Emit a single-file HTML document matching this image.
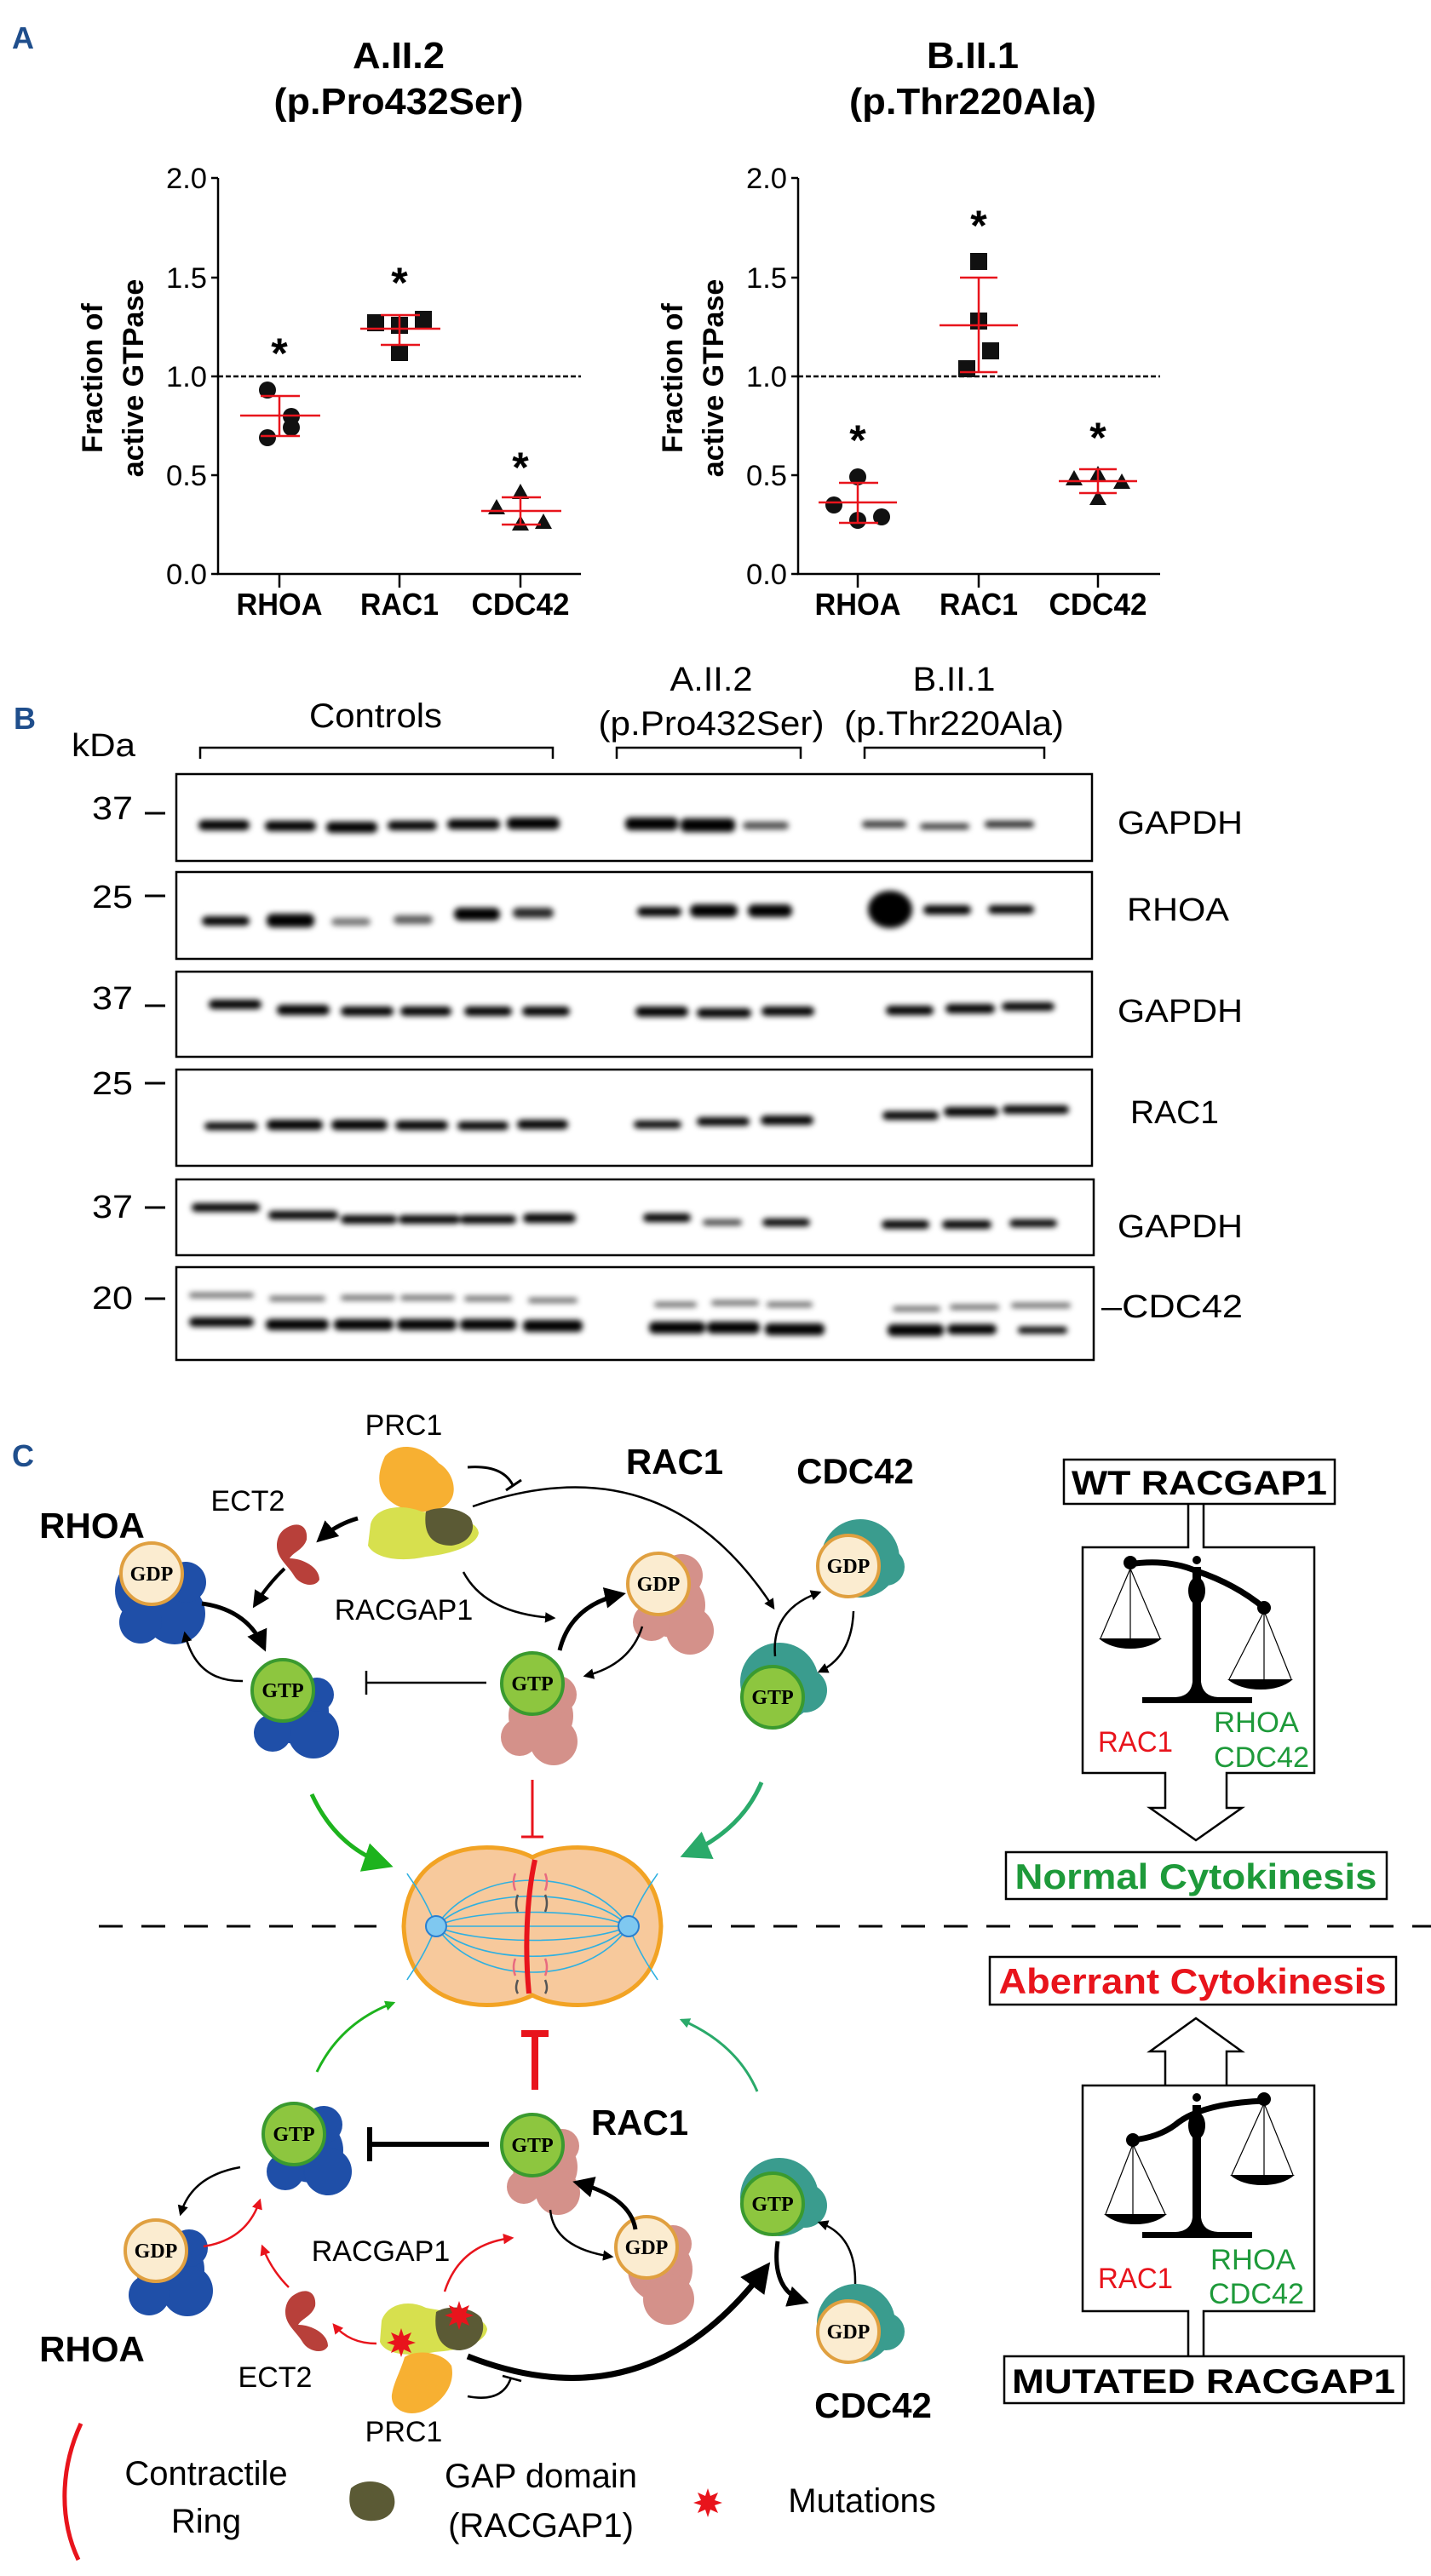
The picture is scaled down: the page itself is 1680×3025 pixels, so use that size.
<!DOCTYPE html>
<html><head><meta charset="utf-8"><style>
html,body{margin:0;padding:0;background:#fff;}
svg{display:block;}
text{font-family:"Liberation Sans",Arial,sans-serif;}
.s{font-family:"Liberation Serif",serif;font-weight:bold;}
</style></head><body>
<svg width="1680" height="3025" viewBox="0 0 1680 3025" xmlns="http://www.w3.org/2000/svg">
<defs>
<filter id="bl" x="-20%" y="-80%" width="140%" height="260%"><feGaussianBlur stdDeviation="3.5"/></filter>
<marker id="ak" viewBox="0 0 10 10" refX="8" refY="5" markerWidth="5" markerHeight="5" orient="auto"><path d="M0,0L10,5L0,10z" fill="#000"/></marker>
<marker id="ar" viewBox="0 0 10 10" refX="8" refY="5" markerWidth="5" markerHeight="5" orient="auto"><path d="M0,0L10,5L0,10z" fill="#e8141c"/></marker>
<marker id="ag" viewBox="0 0 10 10" refX="8" refY="5" markerWidth="4" markerHeight="4" orient="auto"><path d="M0,0L10,5L0,10z" fill="#1db31d"/></marker>
<marker id="at" viewBox="0 0 10 10" refX="8" refY="5" markerWidth="4" markerHeight="4" orient="auto"><path d="M0,0L10,5L0,10z" fill="#2aaa6a"/></marker>
<marker id="ag2" viewBox="0 0 10 10" refX="8" refY="5" markerWidth="7" markerHeight="7" orient="auto"><path d="M0,0L10,5L0,10z" fill="#1db31d"/></marker>
<marker id="at2" viewBox="0 0 10 10" refX="8" refY="5" markerWidth="7" markerHeight="7" orient="auto"><path d="M0,0L10,5L0,10z" fill="#2aaa6a"/></marker>
</defs>

<!-- ===== Panel A ===== -->
<text x="14" y="57" font-size="36" font-weight="bold" fill="#1f4e8c">A</text>
<text x="468" y="80" font-size="44" font-weight="bold" text-anchor="middle" textLength="108" lengthAdjust="spacingAndGlyphs">A.II.2</text>
<text x="468" y="134" font-size="44" font-weight="bold" text-anchor="middle" textLength="293" lengthAdjust="spacingAndGlyphs">(p.Pro432Ser)</text>
<text x="1142" y="80" font-size="44" font-weight="bold" text-anchor="middle" textLength="108" lengthAdjust="spacingAndGlyphs">B.II.1</text>
<text x="1142" y="134" font-size="44" font-weight="bold" text-anchor="middle" textLength="290" lengthAdjust="spacingAndGlyphs">(p.Thr220Ala)</text>

<g stroke="#000" stroke-width="2.5" fill="none">
<path d="M256,209V674H682"/>
<path d="M248,209H256M248,326H256M248,442H256M248,558H256M248,674H256"/>
<path d="M328,674V690M469,674V690M611,674V690"/>
<path d="M937,209V674H1362"/>
<path d="M929,209H937M929,326H937M929,442H937M929,558H937M929,674H937"/>
<path d="M1007,674V690M1149,674V690M1289,674V690"/>
</g>
<path d="M256,442H682M937,442H1362" stroke="#000" stroke-width="2.5" stroke-dasharray="6,3"/>
<g font-size="34" text-anchor="end">
<text x="243" y="221" textLength="48" lengthAdjust="spacingAndGlyphs">2.0</text>
<text x="243" y="338" textLength="48" lengthAdjust="spacingAndGlyphs">1.5</text>
<text x="243" y="454" textLength="48" lengthAdjust="spacingAndGlyphs">1.0</text>
<text x="243" y="570" textLength="48" lengthAdjust="spacingAndGlyphs">0.5</text>
<text x="243" y="686" textLength="48" lengthAdjust="spacingAndGlyphs">0.0</text>
<text x="924" y="221" textLength="48" lengthAdjust="spacingAndGlyphs">2.0</text>
<text x="924" y="338" textLength="48" lengthAdjust="spacingAndGlyphs">1.5</text>
<text x="924" y="454" textLength="48" lengthAdjust="spacingAndGlyphs">1.0</text>
<text x="924" y="570" textLength="48" lengthAdjust="spacingAndGlyphs">0.5</text>
<text x="924" y="686" textLength="48" lengthAdjust="spacingAndGlyphs">0.0</text>
</g>
<g font-size="36" font-weight="bold" text-anchor="middle">
<text x="328" y="722" textLength="101" lengthAdjust="spacingAndGlyphs">RHOA</text>
<text x="469" y="722" textLength="92" lengthAdjust="spacingAndGlyphs">RAC1</text>
<text x="611" y="722" textLength="115" lengthAdjust="spacingAndGlyphs">CDC42</text>
<text x="1007" y="722" textLength="101" lengthAdjust="spacingAndGlyphs">RHOA</text>
<text x="1149" y="722" textLength="92" lengthAdjust="spacingAndGlyphs">RAC1</text>
<text x="1289" y="722" textLength="115" lengthAdjust="spacingAndGlyphs">CDC42</text>
</g>
<g font-size="34" font-weight="bold" text-anchor="middle">
<text transform="translate(120,444) rotate(-90)">Fraction of</text>
<text transform="translate(168,444) rotate(-90)">active GTPase</text>
<text transform="translate(801,444) rotate(-90)">Fraction of</text>
<text transform="translate(849,444) rotate(-90)">active GTPase</text>
</g>
<g font-size="50" font-weight="bold" text-anchor="middle">
<text x="328" y="432">*</text><text x="469" y="349">*</text><text x="611" y="566">*</text>
<text x="1007" y="534">*</text><text x="1149" y="282">*</text><text x="1289" y="531">*</text>
</g>
<!-- points -->
<g fill="#111">
<circle cx="314" cy="458" r="10"/><circle cx="342" cy="489" r="10"/><circle cx="342" cy="502" r="10"/><circle cx="314" cy="514" r="10"/>
<rect x="431" y="369" width="20" height="20"/><rect x="459" y="372" width="20" height="20"/><rect x="487" y="365" width="20" height="20"/><rect x="459" y="404" width="20" height="20"/>
<path d="M583,586l10,18h-20zM611,568l10,18h-20zM638,603l10,18h-20zM611,605l10,18h-20z"/>
<circle cx="979" cy="593" r="10"/><circle cx="1007" cy="560" r="10"/><circle cx="1035" cy="607" r="10"/><circle cx="1007" cy="611" r="10"/>
<rect x="1139" y="297" width="20" height="20"/><rect x="1139" y="367" width="20" height="20"/><rect x="1153" y="402" width="20" height="20"/><rect x="1125" y="423" width="20" height="20"/>
<path d="M1261,552l10,18h-20zM1289,547l10,18h-20zM1317,556l10,18h-20zM1289,575l10,18h-20z"/>
</g>
<g stroke="#e8141c" stroke-width="2.5" fill="none">
<path d="M282,488H376M306,465H352M306,512H352M328,465V512"/>
<path d="M423,386H517M447,370H493M447,405H493M469,370V405"/>
<path d="M565,600H659M589,584H635M589,616H635M611,584V616"/>
<path d="M961,590H1053M985,567H1031M985,614H1031M1007,567V614"/>
<path d="M1103,382H1195M1127,326H1171M1127,437H1171M1149,326V437"/>
<path d="M1243,565H1335M1267,551H1311M1267,579H1311M1289,551V579"/>
</g>

<!-- ===== Panel B ===== -->
<text x="16" y="856" font-size="36" font-weight="bold" fill="#1f4e8c">B</text>
<text x="84" y="888" font-size="38" textLength="75" lengthAdjust="spacingAndGlyphs">kDa</text>
<text x="441" y="854" font-size="40" text-anchor="middle" textLength="156" lengthAdjust="spacingAndGlyphs">Controls</text>
<text x="835" y="811" font-size="40" text-anchor="middle" textLength="97" lengthAdjust="spacingAndGlyphs">A.II.2</text>
<text x="835" y="863" font-size="40" text-anchor="middle" textLength="265" lengthAdjust="spacingAndGlyphs">(p.Pro432Ser)</text>
<text x="1120" y="811" font-size="40" text-anchor="middle" textLength="97" lengthAdjust="spacingAndGlyphs">B.II.1</text>
<text x="1120" y="863" font-size="40" text-anchor="middle" textLength="258" lengthAdjust="spacingAndGlyphs">(p.Thr220Ala)</text>
<g stroke="#000" stroke-width="2.5" fill="none">
<path d="M235,891V878H649V891M724,891V878H940V891M1015,891V878H1226V891"/>
<rect x="207" y="909" width="1075" height="102"/>
<rect x="207" y="1024" width="1075" height="102"/>
<rect x="207" y="1141" width="1075" height="100"/>
<rect x="207" y="1256" width="1075" height="113"/>
<rect x="207" y="1385" width="1077" height="89"/>
<rect x="207" y="1488" width="1077" height="109"/>
</g>
<g font-size="38">
<text x="108" y="962" textLength="48" lengthAdjust="spacingAndGlyphs">37</text>
<text x="108" y="1066" textLength="48" lengthAdjust="spacingAndGlyphs">25</text>
<text x="108" y="1185" textLength="48" lengthAdjust="spacingAndGlyphs">37</text>
<text x="108" y="1285" textLength="48" lengthAdjust="spacingAndGlyphs">25</text>
<text x="108" y="1430" textLength="48" lengthAdjust="spacingAndGlyphs">37</text>
<text x="108" y="1537" textLength="48" lengthAdjust="spacingAndGlyphs">20</text>
</g>
<path d="M170,955H194M170,1052H194M170,1181H194M170,1272H194M170,1418H194M170,1525H194" stroke="#000" stroke-width="3"/>
<g font-size="38">
<text x="1312" y="979" textLength="147" lengthAdjust="spacingAndGlyphs">GAPDH</text>
<text x="1323" y="1081" textLength="120" lengthAdjust="spacingAndGlyphs">RHOA</text>
<text x="1312" y="1200" textLength="147" lengthAdjust="spacingAndGlyphs">GAPDH</text>
<text x="1327" y="1319" textLength="104" lengthAdjust="spacingAndGlyphs">RAC1</text>
<text x="1312" y="1453" textLength="147" lengthAdjust="spacingAndGlyphs">GAPDH</text>
<text x="1293" y="1547" textLength="166" lengthAdjust="spacingAndGlyphs">–CDC42</text>
</g>
<g fill="#000" filter="url(#bl)">
<!-- box1 -->
<rect x="233" y="963" width="60" height="12" rx="6"/><rect x="311" y="964" width="60" height="12" rx="6"/><rect x="383" y="965" width="60" height="13" rx="6"/><rect x="455" y="964" width="58" height="11" rx="6"/><rect x="525" y="962" width="62" height="12" rx="6"/><rect x="595" y="960" width="62" height="14" rx="6"/>
<rect x="734" y="960" width="62" height="15" rx="6"/><rect x="799" y="961" width="64" height="16" rx="6"/><rect x="872" y="965" width="54" height="9" rx="5" opacity="0.7"/>
<rect x="1012" y="964" width="52" height="8" rx="4" opacity="0.8"/><rect x="1080" y="967" width="58" height="7" rx="4" opacity="0.8"/><rect x="1156" y="964" width="58" height="8" rx="4" opacity="0.85"/>
<!-- box2 -->
<rect x="237" y="1076" width="56" height="11" rx="6"/><rect x="313" y="1073" width="56" height="16" rx="7"/><rect x="389" y="1078" width="46" height="9" rx="5" opacity="0.55"/><rect x="462" y="1075" width="46" height="10" rx="5" opacity="0.65"/><rect x="533" y="1066" width="54" height="15" rx="7"/><rect x="602" y="1066" width="48" height="12" rx="6" opacity="0.85"/>
<rect x="748" y="1065" width="52" height="11" rx="6"/><rect x="810" y="1062" width="56" height="15" rx="7"/><rect x="878" y="1062" width="52" height="15" rx="7"/>
<ellipse cx="1045" cy="1068" rx="26" ry="22"/><rect x="1084" y="1063" width="56" height="11" rx="6"/><rect x="1160" y="1063" width="54" height="10" rx="5"/>
<!-- box3 -->
<rect x="245" y="1174" width="62" height="11" rx="6"/><rect x="325" y="1180" width="62" height="12" rx="6"/><rect x="400" y="1182" width="62" height="11" rx="6"/><rect x="470" y="1182" width="60" height="11" rx="6"/><rect x="545" y="1182" width="56" height="11" rx="6"/><rect x="613" y="1182" width="56" height="11" rx="6"/>
<rect x="746" y="1182" width="62" height="12" rx="6"/><rect x="818" y="1184" width="64" height="11" rx="6"/><rect x="894" y="1182" width="62" height="11" rx="6"/>
<rect x="1040" y="1181" width="56" height="11" rx="6"/><rect x="1110" y="1179" width="58" height="11" rx="6"/><rect x="1176" y="1177" width="62" height="10" rx="6"/>
<!-- box4 -->
<rect x="240" y="1318" width="62" height="9" rx="5"/><rect x="313" y="1315" width="66" height="12" rx="6"/><rect x="389" y="1315" width="66" height="12" rx="6"/><rect x="464" y="1316" width="62" height="11" rx="6"/><rect x="537" y="1317" width="60" height="10" rx="5"/><rect x="607" y="1315" width="60" height="11" rx="6"/>
<rect x="744" y="1316" width="56" height="9" rx="5"/><rect x="818" y="1312" width="62" height="10" rx="5"/><rect x="893" y="1310" width="62" height="11" rx="6"/>
<rect x="1036" y="1305" width="66" height="10" rx="5"/><rect x="1108" y="1300" width="64" height="11" rx="6"/><rect x="1177" y="1298" width="78" height="10" rx="5"/>
<!-- box5 -->
<rect x="225" y="1413" width="80" height="10" rx="5"/><rect x="315" y="1422" width="82" height="10" rx="5"/><rect x="400" y="1427" width="66" height="10" rx="5"/><rect x="468" y="1427" width="72" height="10" rx="5"/><rect x="540" y="1427" width="66" height="10" rx="5"/><rect x="614" y="1425" width="62" height="11" rx="6"/>
<rect x="755" y="1425" width="56" height="10" rx="5"/><rect x="825" y="1432" width="46" height="7" rx="4" opacity="0.75"/><rect x="895" y="1431" width="56" height="9" rx="5"/>
<rect x="1035" y="1433" width="56" height="10" rx="5"/><rect x="1106" y="1433" width="58" height="10" rx="5"/><rect x="1185" y="1432" width="56" height="9" rx="5"/>
<!-- box6 -->
<g opacity="0.6"><rect x="222" y="1518" width="76" height="6" rx="3"/><rect x="316" y="1522" width="66" height="6" rx="3"/><rect x="400" y="1521" width="64" height="6" rx="3"/><rect x="470" y="1521" width="64" height="6" rx="3"/><rect x="545" y="1522" width="56" height="6" rx="3"/><rect x="620" y="1524" width="58" height="6" rx="3"/>
<rect x="768" y="1529" width="50" height="6" rx="3"/><rect x="835" y="1527" width="56" height="6" rx="3"/><rect x="900" y="1529" width="54" height="6" rx="3"/>
<rect x="1048" y="1534" width="56" height="6" rx="3"/><rect x="1115" y="1532" width="58" height="6" rx="3"/><rect x="1187" y="1530" width="70" height="6" rx="3"/></g>
<rect x="222" y="1547" width="76" height="11" rx="6"/><rect x="312" y="1549" width="74" height="13" rx="6"/><rect x="392" y="1549" width="70" height="13" rx="6"/><rect x="466" y="1549" width="70" height="13" rx="6"/><rect x="540" y="1549" width="66" height="13" rx="6"/><rect x="614" y="1550" width="70" height="14" rx="6"/>
<rect x="762" y="1552" width="66" height="14" rx="6"/><rect x="830" y="1552" width="62" height="14" rx="6"/><rect x="898" y="1554" width="70" height="14" rx="6"/>
<rect x="1042" y="1555" width="66" height="14" rx="6"/><rect x="1112" y="1555" width="58" height="12" rx="6"/><rect x="1195" y="1558" width="58" height="8" rx="4"/>
</g>

<!-- ===== Panel C ===== -->
<text x="14" y="1722" font-size="36" font-weight="bold" fill="#1f4e8c">C</text>

<!-- dashed separator -->
<path d="M116,2262H442M808,2262H1680" stroke="#000" stroke-width="3" stroke-dasharray="28,22"/>

<!-- cell -->
<path d="M625,2181 C665,2160 772,2158 776,2262 C772,2366 665,2364 625,2343 C585,2364 478,2366 474,2262 C478,2158 585,2160 625,2181Z" fill="#f7c99c" stroke="#f2a324" stroke-width="5"/>
<g stroke="#2fb0e0" stroke-width="1.6" fill="none">
<path d="M510,2262H740M512,2262C560,2215 690,2215 738,2262M512,2262C560,2309 690,2309 738,2262M512,2262C560,2190 690,2190 738,2262M512,2262C560,2334 690,2334 738,2262M512,2262C560,2240 690,2240 738,2262M512,2262C560,2284 690,2284 738,2262"/>
<path d="M512,2262C495,2220 480,2205 478,2200M512,2262C495,2304 480,2320 478,2325M738,2262C755,2220 770,2205 772,2200M738,2262C755,2304 770,2320 772,2325"/>
</g>
<circle cx="512" cy="2262" r="12" fill="#7fc8f0" stroke="#2a7fd0" stroke-width="2"/>
<circle cx="738" cy="2262" r="12" fill="#7fc8f0" stroke="#2a7fd0" stroke-width="2"/>
<g stroke="#e86a80" stroke-width="2.5" fill="none"><path d="M605,2200q-4,10 0,20M640,2200q4,10 0,20M605,2300q-4,10 0,20M640,2300q4,10 0,20"/></g>
<g stroke="#555" stroke-width="2.5" fill="none"><path d="M608,2225q-4,10 0,20M640,2225q4,10 0,20M608,2325q-4,10 0,16M640,2325q4,10 0,16"/></g>
<path d="M628,2184 C618,2230 616,2290 621,2341" stroke="#e8141c" stroke-width="6" fill="none"/>

<!-- green arrows -->
<path d="M366,2107 Q395,2170 455,2190" stroke="#1db31d" stroke-width="5" fill="none" marker-end="url(#ag2)"/>
<path d="M894,2093 Q870,2150 805,2178" stroke="#2aaa6a" stroke-width="5" fill="none" marker-end="url(#at2)"/>
<path d="M625,2090V2157M612,2157H638" stroke="#e8141c" stroke-width="3" fill="none"/>
<path d="M372,2433 Q400,2375 462,2352" stroke="#1db31d" stroke-width="3" fill="none" marker-end="url(#ag)"/>
<path d="M889,2456 Q865,2400 800,2372" stroke="#2aaa6a" stroke-width="3" fill="none" marker-end="url(#at)"/>
<path d="M628,2454V2388M612,2388H644" stroke="#e8141c" stroke-width="8" fill="none"/>

<!-- top network -->
<!-- PRC1 / RACGAP1 -->
<path d="M452,1710 C470,1690 500,1700 515,1718 C535,1730 540,1760 520,1770 C500,1780 470,1775 455,1760 C440,1745 445,1725 452,1710Z" fill="#f7b032"/>
<path d="M435,1790 C440,1770 470,1765 495,1775 C520,1780 560,1782 562,1800 C560,1815 530,1825 500,1828 C470,1835 440,1830 432,1815Z" fill="#d7e04e"/>
<path d="M500,1775 C515,1768 540,1770 552,1782 C560,1795 552,1812 530,1815 C510,1815 496,1805 500,1775Z" fill="#5b5a35"/>
<path d="M549,1723 Q590,1720 602,1744 M594,1750 L612,1738" stroke="#000" stroke-width="3" fill="none"/>
<!-- ECT2 -->
<path d="M335,1795 C350,1785 362,1792 360,1808 C356,1820 345,1822 340,1830 C355,1830 375,1840 375,1855 C370,1865 352,1862 345,1850 C338,1838 325,1830 325,1815 C325,1805 330,1798 335,1795Z" fill="#b8403a"/>
<!-- RHOA top -->
<g fill="#1f4fa8"><circle cx="175" cy="1868" r="40"/><circle cx="205" cy="1895" r="36"/><circle cx="165" cy="1905" r="25"/><circle cx="218" cy="1858" r="24"/></g>
<circle cx="178" cy="1848" r="36" fill="#fbecd0" stroke="#e0a040" stroke-width="4"/>
<text x="178" y="1856" class="s" font-size="24" text-anchor="middle">GDP</text>
<g fill="#1f4fa8"><circle cx="348" cy="2010" r="38"/><circle cx="368" cy="2035" r="30"/><circle cx="320" cy="2035" r="22"/><circle cx="372" cy="1990" r="20"/></g>
<circle cx="332" cy="1985" r="36" fill="#8dc63f" stroke="#3a9a2f" stroke-width="4"/>
<text x="332" y="1993" class="s" font-size="24" text-anchor="middle">GTP</text>
<!-- RAC1 top -->
<g fill="#d4918a"><circle cx="790" cy="1885" r="38"/><circle cx="810" cy="1915" r="28"/><circle cx="765" cy="1905" r="22"/><circle cx="800" cy="1850" r="25"/></g>
<circle cx="773" cy="1860" r="36" fill="#fbecd0" stroke="#e0a040" stroke-width="4"/>
<text x="773" y="1868" class="s" font-size="24" text-anchor="middle">GDP</text>
<g fill="#d4918a"><circle cx="635" cy="2015" r="38"/><circle cx="650" cy="2045" r="28"/><circle cx="610" cy="2040" r="22"/><circle cx="655" cy="1990" r="22"/></g>
<circle cx="625" cy="1977" r="36" fill="#8dc63f" stroke="#3a9a2f" stroke-width="4"/>
<text x="625" y="1985" class="s" font-size="24" text-anchor="middle">GTP</text>
<!-- CDC42 top -->
<g fill="#3a9c8e"><circle cx="1010" cy="1830" r="46"/><circle cx="1040" cy="1840" r="22"/></g>
<circle cx="996" cy="1839" r="36" fill="#fbecd0" stroke="#e0a040" stroke-width="4"/>
<text x="996" y="1847" class="s" font-size="24" text-anchor="middle">GDP</text>
<g fill="#3a9c8e"><circle cx="915" cy="1975" r="46"/><circle cx="945" cy="1985" r="26"/></g>
<circle cx="907" cy="1993" r="36" fill="#8dc63f" stroke="#3a9a2f" stroke-width="4"/>
<text x="907" y="2001" class="s" font-size="24" text-anchor="middle">GTP</text>

<g stroke="#000" fill="none" stroke-width="2.5">
<path d="M420,1783 Q395,1790 375,1808" stroke-width="5" marker-end="url(#ak)"/>
<path d="M334,1842 Q315,1860 299,1885" stroke-width="4" marker-end="url(#ak)"/>
<path d="M237,1883 Q290,1890 310,1935" stroke-width="5" marker-end="url(#ak)"/>
<path d="M285,1974 Q230,1975 217,1918" marker-end="url(#ak)"/>
<path d="M544,1846 Q570,1895 650,1900" marker-end="url(#ak)"/>
<path d="M657,1938 Q670,1885 730,1872" stroke-width="5" marker-end="url(#ak)"/>
<path d="M754,1910 Q740,1955 687,1968" marker-end="url(#ak)"/>
<path d="M555,1769 Q780,1690 908,1888" marker-end="url(#ak)"/>
<path d="M1002,1892 Q1000,1945 962,1963" marker-end="url(#ak)"/>
<path d="M910,1945 Q905,1890 962,1870" marker-end="url(#ak)"/>
<path d="M571,1976H430M430,1962V1990"/>
</g>

<g font-size="34">
<text x="474" y="1685" text-anchor="middle">PRC1</text>
<text x="291" y="1774" text-anchor="middle">ECT2</text>
<text x="474" y="1902" text-anchor="middle">RACGAP1</text>
<text x="474" y="2867" text-anchor="middle">PRC1</text>
<text x="323" y="2803" text-anchor="middle">ECT2</text>
<text x="447" y="2655" text-anchor="middle">RACGAP1</text>
</g>
<g font-size="42" font-weight="bold" text-anchor="middle">
<text x="108" y="1806">RHOA</text>
<text x="792" y="1731">RAC1</text>
<text x="1004" y="1742">CDC42</text>
<text x="751" y="2507">RAC1</text>
<text x="108" y="2773">RHOA</text>
<text x="1025" y="2839">CDC42</text>
</g>

<!-- bottom network -->
<g fill="#1f4fa8"><circle cx="365" cy="2525" r="38"/><circle cx="385" cy="2550" r="28"/><circle cx="335" cy="2550" r="22"/><circle cx="380" cy="2495" r="22"/></g>
<circle cx="345" cy="2506" r="36" fill="#8dc63f" stroke="#3a9a2f" stroke-width="4"/>
<text x="345" y="2514" class="s" font-size="24" text-anchor="middle">GTP</text>
<g fill="#1f4fa8"><circle cx="200" cy="2665" r="40"/><circle cx="220" cy="2690" r="30"/><circle cx="175" cy="2695" r="24"/><circle cx="222" cy="2640" r="22"/></g>
<circle cx="183" cy="2643" r="36" fill="#fbecd0" stroke="#e0a040" stroke-width="4"/>
<text x="183" y="2651" class="s" font-size="24" text-anchor="middle">GDP</text>
<g fill="#d4918a"><circle cx="640" cy="2545" r="38"/><circle cx="655" cy="2575" r="26"/><circle cx="615" cy="2568" r="20"/><circle cx="660" cy="2520" r="20"/></g>
<circle cx="625" cy="2519" r="36" fill="#8dc63f" stroke="#3a9a2f" stroke-width="4"/>
<text x="625" y="2527" class="s" font-size="24" text-anchor="middle">GTP</text>
<g fill="#d4918a"><circle cx="775" cy="2665" r="38"/><circle cx="785" cy="2700" r="30"/><circle cx="790" cy="2635" r="22"/></g>
<circle cx="759" cy="2639" r="36" fill="#fbecd0" stroke="#e0a040" stroke-width="4"/>
<text x="759" y="2647" class="s" font-size="24" text-anchor="middle">GDP</text>
<g fill="#3a9c8e"><circle cx="915" cy="2580" r="46"/><circle cx="945" cy="2590" r="26"/></g>
<circle cx="907" cy="2588" r="36" fill="#8dc63f" stroke="#3a9a2f" stroke-width="4"/>
<text x="907" y="2596" class="s" font-size="24" text-anchor="middle">GTP</text>
<g fill="#3a9c8e"><circle cx="1005" cy="2728" r="46"/><circle cx="1040" cy="2738" r="22"/></g>
<circle cx="996" cy="2738" r="36" fill="#fbecd0" stroke="#e0a040" stroke-width="4"/>
<text x="996" y="2746" class="s" font-size="24" text-anchor="middle">GDP</text>
<!-- ECT2 bottom -->
<path d="M345,2695 C360,2685 372,2692 370,2708 C366,2720 355,2722 350,2730 C365,2730 385,2740 385,2755 C380,2765 362,2762 355,2750 C348,2738 335,2730 335,2715 C335,2705 340,2698 345,2695Z" fill="#b8403a"/>
<!-- RACGAP1 bottom -->
<path d="M448,2725 C455,2705 480,2700 500,2710 C525,2715 570,2718 572,2735 C570,2752 540,2760 510,2762 C480,2768 452,2765 446,2750Z" fill="#d7e04e"/>
<path d="M512,2715 C528,2705 555,2710 565,2722 C572,2738 562,2758 540,2760 C520,2760 508,2745 512,2715Z" fill="#5b5a35"/>
<path d="M475,2768 C490,2758 520,2762 530,2778 C535,2800 520,2820 500,2830 C480,2840 458,2830 460,2812 C462,2798 470,2785 475,2768Z" fill="#f7b032"/>
<g fill="#e8141c">
<path d="M471,2734l3,9l9,-4l-4,9l9,3l-9,3l4,9l-9,-4l-3,9l-3,-9l-9,4l4,-9l-9,-3l9,-3l-4,-9l9,4z"/>
<path d="M539,2702l3,9l9,-4l-4,9l9,3l-9,3l4,9l-9,-4l-3,9l-3,-9l-9,4l4,-9l-9,-3l9,-3l-4,-9l9,4z"/>
</g>
<path d="M549,2814 Q590,2822 600,2792M590,2790L612,2796" stroke="#000" stroke-width="2.5" fill="none"/>

<g stroke="#000" fill="none" stroke-width="2.5">
<path d="M282,2545 Q225,2555 212,2600" marker-end="url(#ak)"/>
<path d="M646,2595 Q650,2640 718,2650" marker-end="url(#ak)"/>
<path d="M746,2618 Q740,2580 677,2563" stroke-width="5" marker-end="url(#ak)"/>
<path d="M549,2767 Q760,2850 900,2662" stroke-width="7" marker-end="url(#ak)"/>
<path d="M913,2632 Q905,2690 945,2703" stroke-width="5" marker-end="url(#ak)"/>
<path d="M1004,2682 Q1005,2625 962,2610" marker-end="url(#ak)"/>
<path d="M574,2518H434M434,2498V2538" stroke-width="6"/>
</g>
<g stroke="#e8141c" fill="none" stroke-width="2.5">
<path d="M239,2638 Q290,2630 305,2584" marker-end="url(#ar)"/>
<path d="M339,2686 Q318,2665 308,2638" marker-end="url(#ar)"/>
<path d="M442,2752 Q410,2752 392,2730" marker-end="url(#ar)"/>
<path d="M522,2691 Q540,2635 601,2628" marker-end="url(#ar)"/>
</g>

<!-- legend -->
<path d="M95,2846 C70,2900 70,2960 92,3006" stroke="#e8141c" stroke-width="5" fill="none"/>
<text x="242" y="2918" font-size="40" text-anchor="middle">Contractile</text>
<text x="242" y="2974" font-size="40" text-anchor="middle">Ring</text>
<path d="M412,2922 C425,2910 450,2912 460,2925 C468,2940 462,2958 440,2960 C420,2962 405,2950 412,2922Z" fill="#5b5a35"/>
<text x="635" y="2921" font-size="40" text-anchor="middle">GAP domain</text>
<text x="635" y="2979" font-size="40" text-anchor="middle">(RACGAP1)</text>
<path d="M831,2922l3,9l9,-4l-4,9l9,3l-9,3l4,9l-9,-4l-3,9l-3,-9l-9,4l4,-9l-9,-3l9,-3l-4,-9l9,4z" fill="#e8141c"/>
<text x="1012" y="2950" font-size="40" text-anchor="middle">Mutations</text>

<!-- right column -->
<g stroke="#000" stroke-width="2.5" fill="none">
<rect x="1249" y="1714" width="318" height="52"/>
<path d="M1395,1766V1817H1271V2082H1368V2123H1350L1404,2161L1458,2123H1440V2082H1543V1817H1413V1766"/>
<rect x="1181" y="2175" width="447" height="55"/>
<rect x="1162" y="2298" width="477" height="56"/>
<path d="M1368,2449V2409H1350L1404,2370L1458,2409H1440V2449"/>
<path d="M1395,2767V2714H1271V2449H1543V2714H1413V2767"/>
<rect x="1179" y="2767" width="469" height="55"/>
</g>
<text x="1408" y="1755" font-size="40" font-weight="bold" text-anchor="middle" textLength="300" lengthAdjust="spacingAndGlyphs">WT RACGAP1</text>
<text x="1404" y="2218" font-size="42" font-weight="bold" fill="#1e9a3a" text-anchor="middle" textLength="425" lengthAdjust="spacingAndGlyphs">Normal Cytokinesis</text>
<text x="1400" y="2341" font-size="42" font-weight="bold" fill="#e8141c" text-anchor="middle" textLength="455" lengthAdjust="spacingAndGlyphs">Aberrant Cytokinesis</text>
<text x="1413" y="2810" font-size="40" font-weight="bold" text-anchor="middle" textLength="450" lengthAdjust="spacingAndGlyphs">MUTATED RACGAP1</text>
<g font-size="34">
<text x="1333" y="2057" fill="#e8141c" text-anchor="middle" textLength="88" lengthAdjust="spacingAndGlyphs">RAC1</text>
<text x="1475" y="2034" fill="#1e9a3a" text-anchor="middle" textLength="100" lengthAdjust="spacingAndGlyphs">RHOA</text>
<text x="1481" y="2075" fill="#1e9a3a" text-anchor="middle" textLength="112" lengthAdjust="spacingAndGlyphs">CDC42</text>
<text x="1333" y="2687" fill="#e8141c" text-anchor="middle" textLength="88" lengthAdjust="spacingAndGlyphs">RAC1</text>
<text x="1471" y="2665" fill="#1e9a3a" text-anchor="middle" textLength="100" lengthAdjust="spacingAndGlyphs">RHOA</text>
<text x="1475" y="2705" fill="#1e9a3a" text-anchor="middle" textLength="112" lengthAdjust="spacingAndGlyphs">CDC42</text>
</g>
<!-- scale 1 (right side down) -->
<g>
<path d="M1325,1837 Q1370,1830 1405,1845 Q1450,1860 1484,1888" stroke="#000" stroke-width="7" fill="none"/>
<circle cx="1327" cy="1835" r="8"/><circle cx="1484" cy="1888" r="8"/><circle cx="1405" cy="1832" r="5"/>
<path d="M1400,1840H1410V1975Q1412,1992 1430,1993H1470V2000H1341V1993H1380Q1398,1992 1400,1975Z" fill="#000"/>
<ellipse cx="1405" cy="1868" rx="10" ry="16"/>
<path d="M1327,1842L1292,1924M1327,1842L1362,1924M1327,1842V1924M1484,1892L1443,1972M1484,1892L1516,1972M1484,1892V1972" stroke="#000" stroke-width="1.2"/>
<path d="M1290,1924H1364Q1350,1936 1327,1936Q1304,1936 1290,1924Z"/>
<path d="M1441,1972H1518Q1504,1984 1480,1984Q1456,1984 1441,1972Z"/>
</g>
<!-- scale 2 (left side down) -->
<g>
<path d="M1330,2513 Q1360,2510 1380,2495 Q1410,2470 1484,2467" stroke="#000" stroke-width="7" fill="none"/>
<circle cx="1330" cy="2513" r="8"/><circle cx="1484" cy="2465" r="8"/><circle cx="1405" cy="2463" r="5"/>
<path d="M1400,2472H1410V2604Q1412,2620 1430,2621H1470V2628H1341V2621H1380Q1398,2620 1400,2604Z"/>
<ellipse cx="1405" cy="2496" rx="10" ry="16"/>
<path d="M1330,2518L1298,2600M1330,2518L1368,2600M1330,2518V2600M1484,2470L1446,2554M1484,2470L1518,2554M1484,2470V2554" stroke="#000" stroke-width="1.2"/>
<path d="M1296,2600H1370Q1356,2612 1333,2612Q1310,2612 1296,2600Z"/>
<path d="M1444,2554H1520Q1506,2566 1482,2566Q1458,2566 1444,2554Z"/>
</g>
</svg>
</body></html>
